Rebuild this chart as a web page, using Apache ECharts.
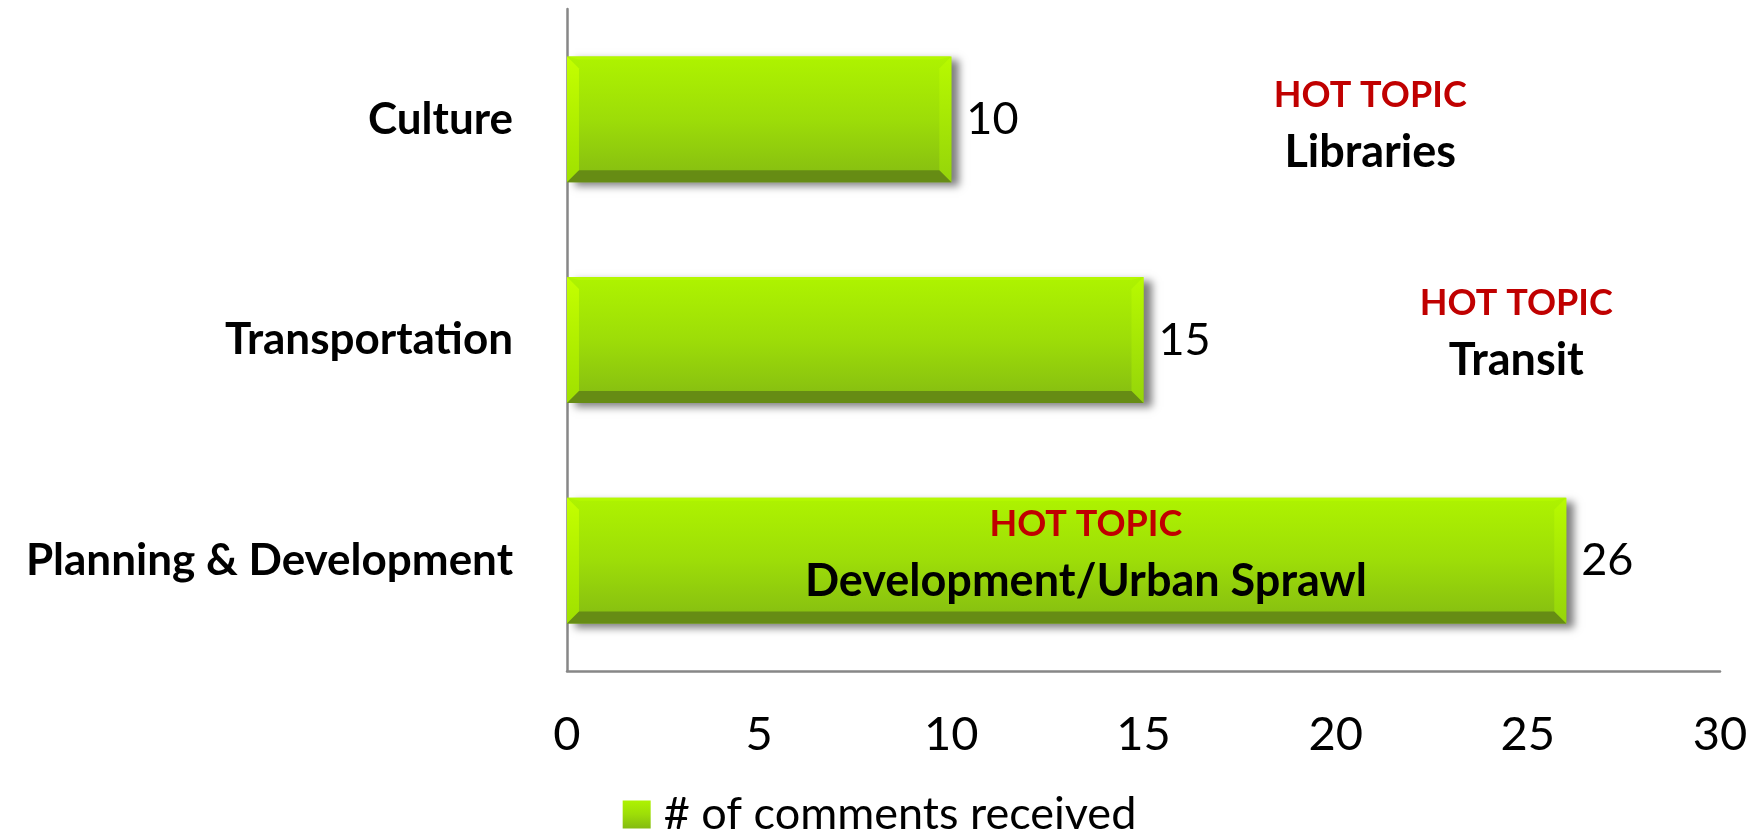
<!DOCTYPE html>
<html>
<head>
<meta charset="utf-8">
<script src="https://cdn.jsdelivr.net/npm/echarts@6/dist/echarts.min.js"></script>
<style>
  html, body { margin: 0; padding: 0; background: #fff; }
  #chart { width: 1759px; height: 831px; }
</style>
</head>
<body>
<div id="chart"></div>
<script>
// data
var categories = ['Culture', 'Transportation', 'Planning & Development'];
var comments = [10, 15, 26];
var seriesName = '# of comments received';
var hotTopics = ['Libraries', 'Transit', 'Development/Urban Sprawl'];
var hotTopicX = [20.9, 24.7, 13.5];
var xTicks = [0, 5, 10, 15, 20, 25, 30];

var FONT = 'Lato, "Open Sans", sans-serif';
var barFace = new echarts.graphic.LinearGradient(0, 0, 0, 1, [
  { offset: 0, color: '#aef300' },
  { offset: 0.5, color: '#9ddd08' },
  { offset: 1, color: '#84bb12' }
]);

// bevel edges drawn over each bar
function renderBevel(params, api) {
  var v = api.value(0), c = api.value(1);
  var p0 = api.coord([0, c]), p1 = api.coord([v, c]);
  var h = api.size([0, 1])[1] * 0.57;
  var x0 = p0[0], x1 = p1[0], y0 = p0[1] - h / 2, y1 = p0[1] + h / 2, b = 12;
  return {
    type: 'group',
    silent: true,
    children: [
      { type: 'polygon', shape: { points: [[x0, y0], [x1, y0], [x1 - b, y0 + 3], [x0 + b, y0 + 3]] }, style: { fill: '#b4f800' } },
      { type: 'polygon', shape: { points: [[x0, y0], [x0 + b, y0 + b], [x0 + b, y1 - b], [x0, y1]] },
        style: { fill: new echarts.graphic.LinearGradient(0, 0, 0, 1, [{ offset: 0, color: '#c4ff00' }, { offset: 1, color: '#9fe000' }]) } },
      { type: 'polygon', shape: { points: [[x1, y0], [x1, y1], [x1 - b, y1 - b], [x1 - b, y0 + b]] },
        style: { fill: new echarts.graphic.LinearGradient(0, 0, 0, 1, [{ offset: 0, color: '#b8fa00' }, { offset: 1, color: '#95d40a' }]) } },
      { type: 'polygon', shape: { points: [[x0, y1], [x1, y1], [x1 - b, y1 - b], [x0 + b, y1 - b]] }, style: { fill: '#668c14' } }
    ]
  };
}

var chart = echarts.init(document.getElementById('chart'));
var option = {
  backgroundColor: '#ffffff',
  animation: false,
  textStyle: { fontFamily: FONT },
  grid: { left: 567, right: 39, top: 9, bottom: 160, containLabel: false },
  legend: {
    data: [{ name: seriesName, icon: 'rect' }],
    left: 'center',
    top: 787,
    itemWidth: 28,
    itemHeight: 28,
    itemGap: 12,
    textStyle: { fontSize: 45, color: '#000', fontFamily: FONT, padding: [0, 0, 0, 8] }
  },
  xAxis: {
    type: 'value',
    min: xTicks[0],
    max: xTicks[xTicks.length - 1],
    interval: 5,
    axisLine: { show: true, lineStyle: { color: '#878787', width: 2.5 } },
    axisTick: { show: false },
    splitLine: { show: false },
    axisLabel: { fontSize: 47, color: '#000', margin: 40, fontFamily: FONT }
  },
  yAxis: {
    type: 'category',
    inverse: true,
    data: categories,
    axisLine: { show: true, lineStyle: { color: '#878787', width: 2.5 } },
    axisTick: { show: false },
    axisLabel: { fontSize: 44, fontWeight: 'bold', color: '#000', margin: 54, fontFamily: FONT }
  },
  series: [
    {
      name: seriesName,
      type: 'bar',
      data: comments,
      barWidth: '57%',
      itemStyle: {
        color: barFace,
        shadowBlur: 8,
        shadowOffsetX: 8,
        shadowOffsetY: 4,
        shadowColor: 'rgba(0,0,0,0.5)'
      },
      label: { show: true, position: 'right', distance: 15, fontSize: 45, color: '#000', fontFamily: FONT }
    },
    {
      type: 'custom',
      renderItem: renderBevel,
      encode: { x: 0, y: 1 },
      data: comments.map(function (v, i) { return [v, i]; }),
      z: 3
    },
    {
      type: 'scatter',
      symbolSize: 0,
      z: 5,
      itemStyle: { opacity: 1 },
      data: hotTopics.map(function (t, i) {
        return {
          value: [hotTopicX[i], categories[i]],
          label: { formatter: '{h|HOT TOPIC}\n{t|' + t + '}', offset: [0, [5, -8, -7][i]] }
        };
      }),
      label: {
        show: true,
        position: 'inside',
        color: '#000',
        opacity: 1,
        rich: {
          h: { color: '#c00000', fontWeight: 'bold', fontSize: 36, lineHeight: 56, fontFamily: FONT },
          t: { color: '#000000', fontWeight: 'bold', fontSize: 45, lineHeight: 58, fontFamily: FONT }
        }
      }
    }
  ]
};
chart.setOption(option);
</script>
</body>
</html>
